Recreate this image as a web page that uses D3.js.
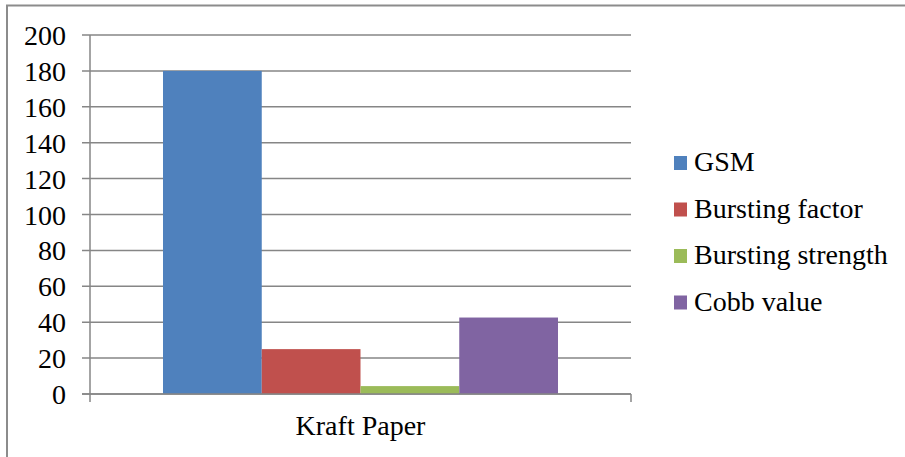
<!DOCTYPE html>
<html><head><meta charset="utf-8">
<script src="https://cdn.jsdelivr.net/npm/d3@7/dist/d3.min.js"></script>
<style>svg text{font-family:"Liberation Serif",Tinos,"Times New Roman",FreeSerif,serif !important;}</style>
</head><body style="margin:0">
<script>
const categories = ["Kraft Paper"];
const seriesNames = ["GSM", "Bursting factor", "Bursting strength", "Cobb value"];
const seriesValues = [180, 25, 4.4, 42.6];
const seriesColors = ["#4F81BD", "#C0504D", "#9BBB59", "#8064A2"];
const yTicks = [0, 20, 40, 60, 80, 100, 120, 140, 160, 180, 200];

(function () {
const W = 905, H = 457;
const FONT = "'Liberation Serif', Tinos, 'Times New Roman', FreeSerif, serif";
const FS = 28;
const svg = d3.select("body").append("svg").attr("width", W).attr("height", H).style("display", "block");
const grid = "#868686";

svg.append("path").attr("d", `M7,${H} L7,5.5 L${W},5.5`).attr("fill","none").attr("stroke","#8c8c8c").attr("stroke-width",2);

const pL = 90, pR = 631, pT = 35, pB = 394;
const y = d3.scaleLinear().domain([0, 200]).range([pB, pT]);
const x0 = d3.scaleBand().domain(categories).range([pL, pR]).paddingInner(0).paddingOuter(0.1848);
const x1 = d3.scaleBand().domain(seriesNames).range([0, x0.bandwidth()]).padding(0);

svg.append("g").selectAll("line").data(yTicks).join("line")
  .attr("x1", pL - 8).attr("x2", pR).attr("y1", d => y(d)).attr("y2", d => y(d))
  .attr("stroke", grid).attr("stroke-width", 1.5);

const g = svg.append("g").selectAll("g").data(categories).join("g").attr("transform", d => `translate(${x0(d)},0)`);
g.selectAll("rect").data(seriesNames.map((n, i) => ({n, v: seriesValues[i], c: seriesColors[i]}))).join("rect")
  .attr("x", d => x1(d.n)).attr("width", x1.bandwidth())
  .attr("y", d => y(d.v)).attr("height", d => pB - y(d.v)).attr("fill", d => d.c);

svg.append("line").attr("x1", pL).attr("x2", pL).attr("y1", pT).attr("y2", pB + 8).attr("stroke", grid).attr("stroke-width", 1.5);
svg.append("line").attr("x1", pR).attr("x2", pR).attr("y1", pB).attr("y2", pB + 8).attr("stroke", grid).attr("stroke-width", 1.5);
svg.append("line").attr("x1", pL - 8).attr("x2", pR).attr("y1", pB).attr("y2", pB).attr("stroke", grid).attr("stroke-width", 1.5);

svg.append("g").selectAll("text").data(yTicks).join("text")
  .attr("x", 66).attr("y", d => y(d) + 10)
  .attr("text-anchor", "end")
  .attr("font-family", FONT).style("font-family", FONT).attr("font-size", FS).attr("fill", "#000").text(d => d);

svg.append("g").selectAll("text").data(categories).join("text")
  .attr("x", d => x0(d) + x0.bandwidth() / 2).attr("y", 435).attr("text-anchor", "middle")
  .attr("font-family", FONT).style("font-family", FONT).attr("font-size", FS).attr("fill", "#000").text(d => d);

const lg = svg.append("g").selectAll("g").data(seriesNames).join("g")
  .attr("transform", (d, i) => `translate(674,${163 + i * 46.5})`);
lg.append("rect").attr("x", 0).attr("y", -7).attr("width", 13).attr("height", 14).attr("fill", (d, i) => seriesColors[i]);
lg.append("text").attr("x", 20).attr("y", 8)
  .attr("font-family", FONT).style("font-family", FONT).attr("font-size", FS).attr("fill", "#000").text(d => d);
})();
</script>
</body></html>
